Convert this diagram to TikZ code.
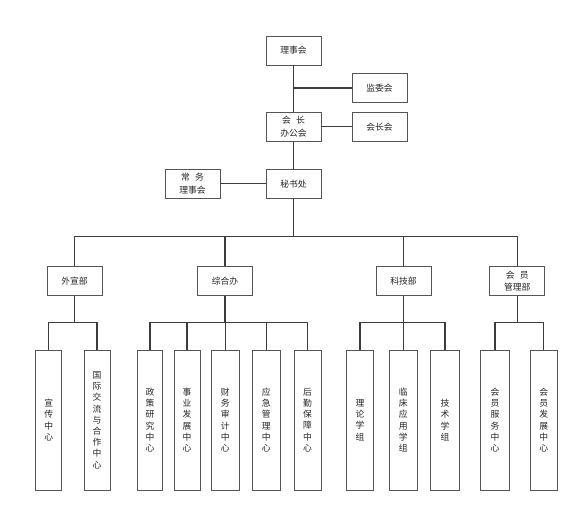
\documentclass[tikz,border=0pt]{standalone}
\usepackage{fontspec}
\newfontfamily\cjk{Noto Sans CJK SC}
\definecolor{BoxGray}{RGB}{85,85,85}
\definecolor{LinkGray}{RGB}{60,60,60}
\usetikzlibrary{positioning, calc}

\begin{document}
\begin{tikzpicture}[x=1pt, y=-1pt,
	unit/.style={draw=BoxGray, line width=0.8pt, fill=white, minimum width=55pt,
		minimum height=29pt, inner sep=0pt, align=center, text=black!85,
		font=\cjk\fontsize{8.8}{12.5}\selectfont},
	leaf/.style={unit, minimum height=140pt, font=\cjk\fontsize{8.8}{11.2}\selectfont},
	link/.style={draw=LinkGray, line width=1.2pt}]
\useasboundingbox (0,0) rectangle (584,508);
% top level
\node[unit] (lsh) at (293.5,50.5) {理事会};
\node[unit] (jwh) at (379.5,88) {监委会};
\node[unit] (hzb) at (293.5,126.7) {会\hspace{0.6em}长\\办公会};
\node[unit] (hzh) at (379.5,126.7) {会长会};
\node[unit] (msc) at (293.5,183.7) {秘书处};
\node[unit] (cwl) at (192.5,183.7) {常\hspace{0.6em}务\\理事会};
% departments
\foreach \n/\x/\t in {wxb/74.5/外宣部, zhb/225/综合办, kjb/403.5/科技部,
	hyb/517.3/{会\hspace{0.6em}员\\管理部}}
	\node[unit] (\n) at (\x,281) {\t};
% centres and groups
\foreach \n/\x/\w/\t in {xc/48.8/26/{宣\\传\\中\\心},
	gj/97/26/{国\\际\\交\\流\\与\\合\\作\\中\\心},
	zc/150/25.5/{政\\策\\研\\究\\中\\心}, sy/187/26/{事\\业\\发\\展\\中\\心},
	cw/225.3/28/{财\\务\\审\\计\\中\\心}, yj/266.3/28/{应\\急\\管\\理\\中\\心},
	hq/307.5/27/{后\\勤\\保\\障\\中\\心}, ll/360/26.7/{理\\论\\学\\组},
	lc/403.3/28/{临\\床\\应\\用\\学\\组}, js/445/28.6/{技\\术\\学\\组},
	hf/495/29.7/{会\\员\\服\\务\\中\\心}, hd/543.7/27.3/{会\\员\\发\\展\\中\\心}}
	\node[leaf, minimum width=\w pt] (\n) at (\x,420) {\t};
% connections
\coordinate (bus) at (0,236.7);
\coordinate (sub) at (0,322.5);
\draw[link] (lsh) -- (hzb);
\draw[link] (jwh.west) -- (jwh.west -| lsh);
\draw[link] (hzb) -- (hzh);
\draw[link] (hzb) -- (msc);
\draw[link] (cwl) -- (msc);
\draw[link] (msc.south) -- (msc |- bus);
\foreach \d in {wxb,zhb,kjb,hyb}
	\draw[link] (msc |- bus) -| (\d.north);
\foreach \d/\ls in {wxb/{xc,gj}, zhb/{zc,sy,cw,yj,hq}, kjb/{ll,lc,js}, hyb/{hf,hd}} {
	\draw[link] (\d.south) -- (\d |- sub);
	\foreach \l in \ls
		\draw[link] (\d |- sub) -| (\l.north);
}
\end{tikzpicture}
\end{document}
